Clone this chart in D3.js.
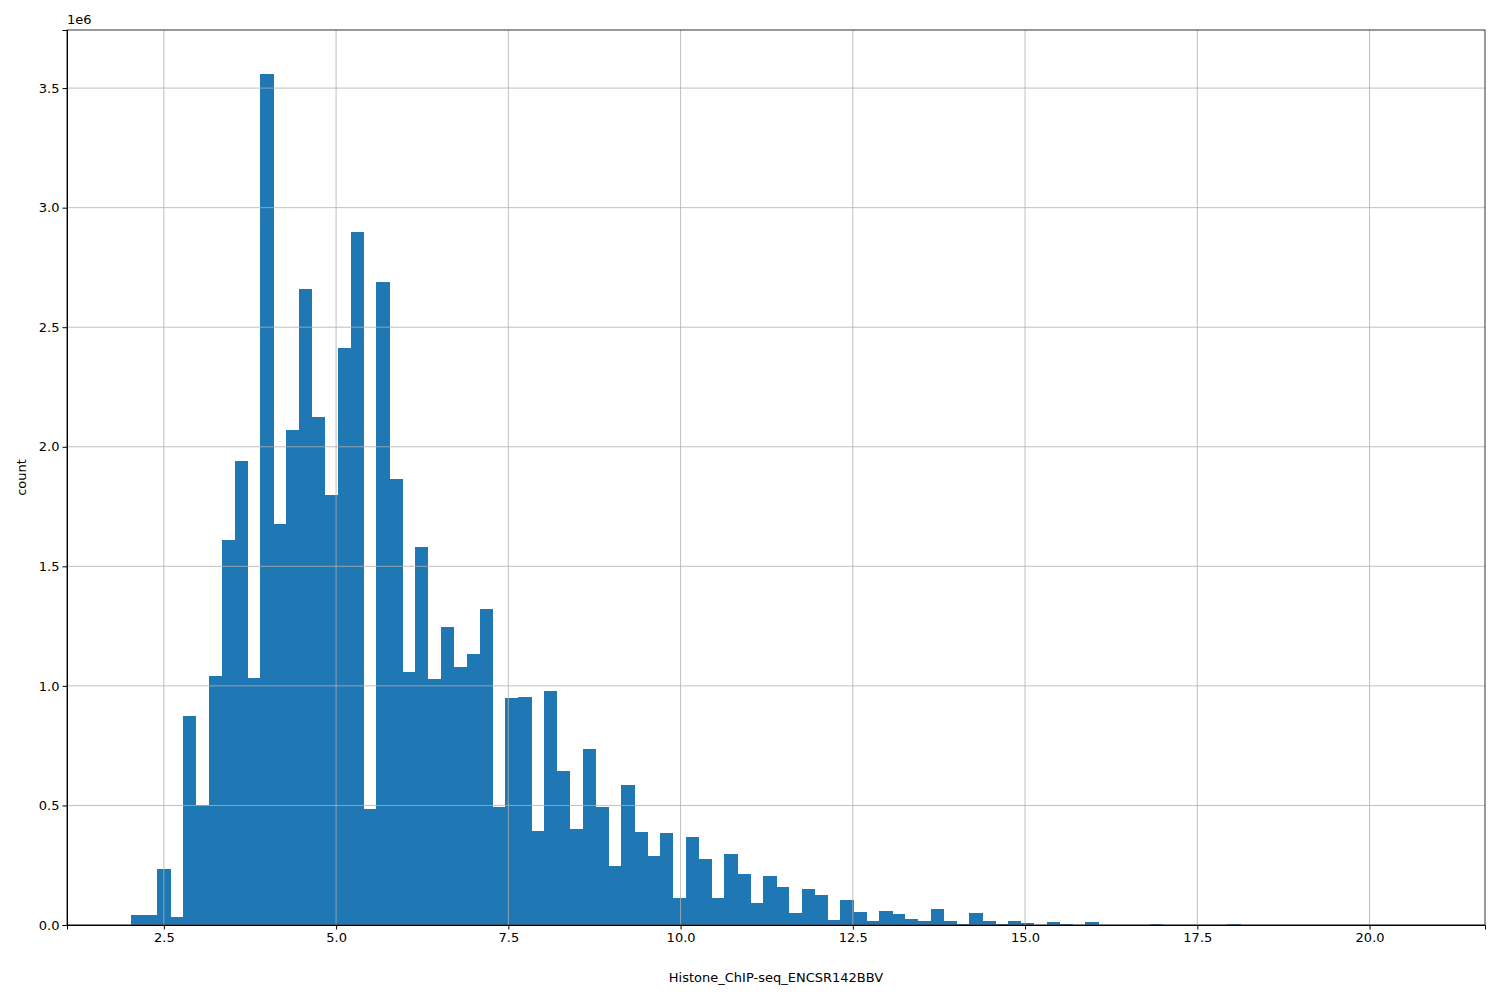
<!DOCTYPE html>
<html><head><meta charset="utf-8">
<script src="https://cdn.jsdelivr.net/npm/d3@7"></script>
<style>body{margin:0;background:#fff}text{font-family:"DejaVu Sans",sans-serif}</style>
</head><body>
<svg id="c" width="1500" height="1000"></svg>
<script>
// histogram bin range (100 equal bins)
var binMin = 2.03, binMax = 20.74;
// counts per bin, in millions
var counts = [0.04,0.04,0.235,0.035,0.875,0.50,1.04,1.61,1.94,1.035,
  3.56,1.675,2.07,2.66,2.125,1.80,2.415,2.90,0.485,2.69,
  1.865,1.06,1.58,1.03,1.245,1.08,1.135,1.32,0.495,0.95,
  0.955,0.395,0.98,0.645,0.40,0.735,0.495,0.245,0.585,0.39,
  0.29,0.385,0.115,0.37,0.275,0.115,0.295,0.215,0.09,0.205,
  0.16,0.05,0.15,0.125,0.02,0.105,0.055,0.015,0.06,0.045,
  0.025,0.015,0.065,0.015,0.005,0.05,0.015,0.005,0.018,0.008,
  0.002,0.012,0.005,0.002,0.012,0.001,0.001,0.001,0.001,0.004,
  0.001,0.001,0.001,0.001,0.001,0.004,0.001,0,0,0,
  0,0,0,0,0,0,0,0,0,0.001];
var xTicks = [2.5,5.0,7.5,10.0,12.5,15.0,17.5,20.0];
var yTicks = [0,0.5,1.0,1.5,2.0,2.5,3.0,3.5];

var svg = d3.select("#c");
var L = 67, R = 1485, T = 30, B = 925;
var pad = (binMax - binMin) * 0.05;
var x = d3.scaleLinear().domain([binMin - pad, binMax + pad]).range([L, R]);
var y = d3.scaleLinear().domain([0, 3.743]).range([B, T]);
var w = (binMax - binMin) / counts.length;

// bars
svg.append("g").attr("shape-rendering", "crispEdges").selectAll("rect").data(counts).join("rect")
  .attr("x", (d, i) => x(binMin + i * w))
  .attr("width", (d, i) => x(binMin + (i + 1) * w) - x(binMin + i * w) + 0.5)
  .attr("y", d => y(d)).attr("height", d => B - y(d))
  .attr("fill", "#1f77b4");

// grid drawn over the bars
svg.append("g").selectAll("line").data(xTicks).join("line")
  .attr("x1", d => x(d)).attr("x2", d => x(d)).attr("y1", T).attr("y2", B)
  .attr("stroke", "#b0b0b0").attr("stroke-width", 0.8);
svg.append("g").selectAll("line").data(yTicks).join("line")
  .attr("x1", L).attr("x2", R).attr("y1", d => y(d)).attr("y2", d => y(d))
  .attr("stroke", "#b0b0b0").attr("stroke-width", 0.8);

// axes
svg.append("g").attr("transform", `translate(0,${B})`)
  .call(d3.axisBottom(x).tickValues(xTicks).tickFormat(d3.format(".1f")).tickSizeOuter(0).tickSize(4.5))
  .call(g => g.selectAll("text").attr("font-size", 13).attr("fill", "#000"));
svg.append("g").attr("transform", `translate(${L},0)`)
  .call(d3.axisLeft(y).tickValues(yTicks).tickFormat(d3.format(".1f")).tickSizeOuter(0).tickSize(4.5))
  .call(g => g.selectAll("text").attr("font-size", 13).attr("fill", "#000"));
svg.append("rect").attr("x", L).attr("y", T).attr("width", R - L).attr("height", B - T)
  .attr("fill", "none").attr("stroke", "#000").attr("stroke-width", 0.8);

svg.append("text").attr("x", L).attr("y", T - 6).attr("font-size", 13).text("1e6");
svg.append("text").attr("x", (L + R) / 2).attr("y", 982).attr("text-anchor", "middle")
  .attr("font-size", 13).text("Histone_ChIP-seq_ENCSR142BBV");
svg.append("text").attr("transform", `translate(26,${(T + B) / 2}) rotate(-90)`)
  .attr("text-anchor", "middle").attr("font-size", 13).text("count");
</script>
</body></html>
